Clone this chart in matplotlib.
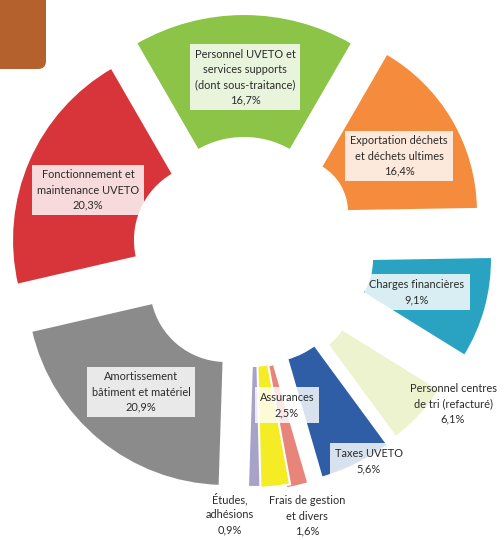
import matplotlib.pyplot as plt
from matplotlib.patches import Wedge, FancyBboxPatch

# values (%), clockwise from the top slice
categories = [
    "Personnel UVETO et\nservices supports\n(dont sous-traitance)",
    "Exportation déchets\net déchets ultimes",
    "Charges financières",
    "Personnel centres\nde tri (refacturé)",
    "Taxes UVETO",
    "Frais de gestion\net divers",
    "Assurances",
    "Études,\nadhésions",
    "Amortissement\nbâtiment et matériel",
    "Fonctionnement et\nmaintenance UVETO",
]
values = [16.7, 16.4, 9.1, 6.1, 5.6, 1.6, 2.5, 0.9, 20.9, 20.3]

colors = ["#8cc447", "#f58b3d", "#2aa3c2", "#eef3cf", "#2f5ea6",
          "#e8857b", "#f4ec24", "#a6a2c8", "#8b8b8b", "#d8353b"]

# layout (pixels): common centre, per-slice shift, inner / outer radius
cx, cy = 250, 262
shift = [(-6, -32), (45, -50), (60, -2), (45, 38), (13, 13),
         (-4, 6), (0, 4), (5, 4), (-24, 24), (-39, -22)]
r_in = [92, 52, 62, 55, 87, 100, 100, 100, 75, 76]
r_out = [216, 183, 182, 170, 211, 224, 222, 221, 200, 199]

label_pos = [(245, 77), (399, 156), (417, 292), (453, 404), (369, 461),
             (307, 516), (287, 405), (230, 514), (141, 392), (88, 190)]
label_box = [True, True, True, False, True, False, True, False, True, True]

fig = plt.figure(figsize=(5.04, 5.4), dpi=100)
ax = fig.add_axes([0, 0, 1, 1])
ax.set_xlim(0, 504)
ax.set_ylim(540, 0)
ax.set_aspect("equal")
ax.axis("off")

# corner tab of the page
ax.add_patch(FancyBboxPatch((-30, -30), 76, 99, boxstyle="round,pad=0,rounding_size=8",
                            fc="#b5612d", ec="none"))

total = sum(values)
start = 120.0
for i, v in enumerate(values):
    span = v / total * 360
    a1, a2 = start - span, start
    start = a1
    # y axis is inverted, so angles are negated
    w = Wedge((cx + shift[i][0], cy + shift[i][1]), r_out[i], -a2, -a1,
              width=r_out[i] - r_in[i], fc=colors[i], ec="white", lw=1.5)
    ax.add_patch(w)

for i, (name, v) in enumerate(zip(categories, values)):
    txt = f"{name}\n{v:.1f}%".replace(".", ",")
    box = dict(boxstyle="square,pad=0.45", fc="white", ec="none", alpha=0.82) if label_box[i] else None
    ax.text(label_pos[i][0], label_pos[i][1], txt, ha="center", va="center",
            fontsize=7.9, family="Lato", color="#2a2a2a", linespacing=1.45, bbox=box)

fig.savefig("out.png", dpi=100)
